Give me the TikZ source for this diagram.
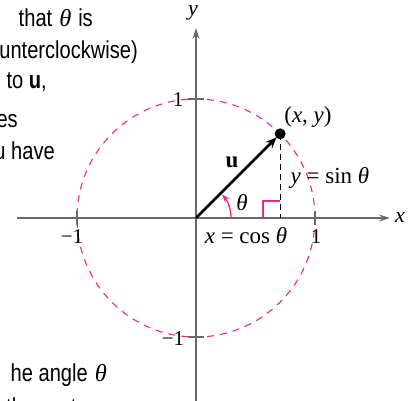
\documentclass[tikz,border=0pt]{standalone}
\usepackage{fontspec}
\setmainfont{Liberation Serif}
\newfontfamily\prosefont[FakeStretch=0.82]{Liberation Sans}
\usetikzlibrary{arrows.meta}
\definecolor{circmag}{RGB}{232,40,140}
\definecolor{axgray}{RGB}{105,105,105}
\newcommand{\thsym}{\hspace{7pt}{\rmfamily\itshape θ}\hspace{7pt}}

\begin{document}
\begin{tikzpicture}[x=1pt, y=1pt,
      axis/.style={draw=axgray, line width=1.5pt, -{Stealth[length=11pt, width=7pt]}},
      tick/.style={draw=axgray, line width=1.3pt},
      lbl/.style={font=\fontsize{23}{25}\selectfont, inner sep=0pt},
      numlbl/.style={font=\fontsize{21}{23}\selectfont, inner sep=0pt},
      prose/.style={font=\prosefont\fontsize{24.5}{28}\selectfont, anchor=base east, inner sep=0pt},
      unitcirc/.style={draw=circmag, line width=1.1pt, dash pattern=on 7pt off 6pt},
      vec/.style={draw=black, line width=2.6pt, -{Stealth[length=11pt, width=9pt]}, shorten >=5pt},
      angmark/.style={draw=circmag, line width=1.3pt}
    ]
      \useasboundingbox (-196,-183) rectangle (219,218);
      \clip (-196,-183) rectangle (219,218);

      % cut-off text of the page
      \node[prose] (t1) at (-103,191) {that\thsym is};
      \node[prose] (t2) at (-58,159) {unterclockwise)};
      \node[prose] (t3) at (-149,129) {to \textbf{u},};
      \node[prose] (t4) at (-178,90) {es};
      \node[prose] (t5) at (-141,58) {u have};
      \node[prose] (t6) at (-89,-164) {he angle\thsym};
      \node[prose, anchor=base west] (t7) at (-190,-197) {the vector};

      \coordinate (O) at (0,0);
      \coordinate (P) at (45:119);
      \coordinate (Q) at (P |- O);

      \draw[unitcirc] (O) circle (119);

      \draw[axis] (-179,0) -- (194,0);
      \draw[axis] (0,-183) -- (0,190);
      \node[lbl, font=\fontsize{22}{24}\selectfont\itshape] (xl) at (204,1) {x};
      \node[lbl, font=\fontsize{22}{24}\selectfont\itshape] (yl) at (-3,205) {y};

      \foreach \t in {-119,119} {
        \draw[tick] (\t,-7) -- (\t,7);
        \draw[tick] (-8,\t) -- (8,\t);
      }
      \node[numlbl] (x1) at (120,-19) {1};
      \node[numlbl] (xm1) at (-124,-19) {−1};
      \node[numlbl] (y1) at (-18,118) {1};
      \node[numlbl] (ym1) at (-23,-121) {−1};

      \draw[black, line width=1.2pt, dash pattern=on 6pt off 4pt] (P) -- (Q);
      \draw[angmark] ([xshift=-17pt]Q) -- ++(0,17) -- ++(17,0);
      \draw[angmark, -{Stealth[length=8pt, width=6pt]}] (35,0) arc[start angle=0, end angle=42, radius=35];

      \draw[vec] (O) -- (P);
      \fill[black] (P) circle (5.5);

      \node[lbl] (th) at (46,15) {\textit{θ}};
      \node[lbl, font=\fontsize{23}{25}\selectfont\bfseries] (u) at (36,56) {u};
      \node[lbl] (pl) at (112,101) {(\textit{x}, \textit{y})};
      \node[lbl] (sinl) at (134,40) {\textit{y} = sin \textit{θ}};
      \node[lbl] (cosl) at (50,-18) {\textit{x} = cos \textit{θ}};
    \end{tikzpicture}
\end{document}
